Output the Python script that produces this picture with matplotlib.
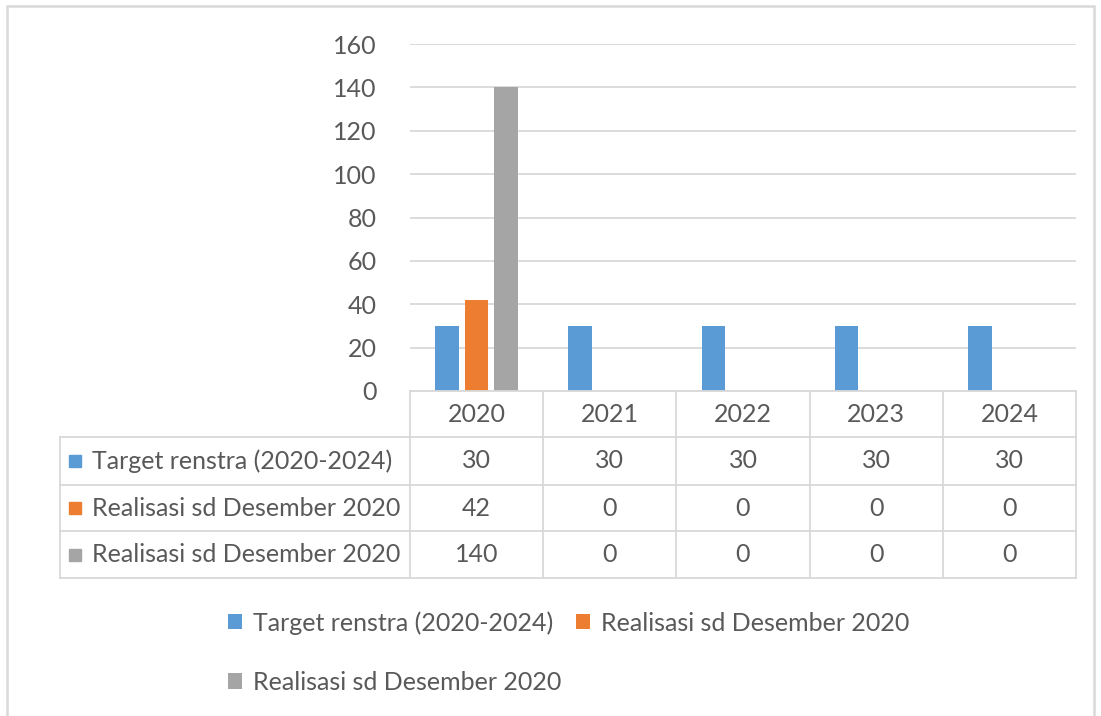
import matplotlib
matplotlib.use("Agg")
import matplotlib.pyplot as plt
from matplotlib.patches import Rectangle
from matplotlib.lines import Line2D

# ---- data ----
years = ["2020", "2021", "2022", "2023", "2024"]
series_names = ["Target renstra (2020-2024)", "Realisasi sd Desember 2020", "Realisasi sd Desember 2020"]
target = [30, 30, 30, 30, 30]
realisasi_a = [42, 0, 0, 0, 0]
realisasi_b = [140, 0, 0, 0, 0]
yticks = [0, 20, 40, 60, 80, 100, 120, 140, 160]

series = [target, realisasi_a, realisasi_b]
colors = ["#5B9BD5", "#ED7D31", "#A5A5A5"]
TXT = "#595959"
GRID = "#D9D9D9"
FONT = "Lato"
FS = 18

W, H = 1101, 716
fig = plt.figure(figsize=(W / 100, H / 100), dpi=100)
plt.rcParams['font.family'] = [FONT, 'DejaVu Sans']

def fx(x):
    return x / W

def fy(y):
    return 1 - y / H

# outer border
fig.patches.append(Rectangle((fx(7), fy(730)), fx(1094) - fx(7), fy(6) - fy(730),
                             transform=fig.transFigure, fill=False, edgecolor="#D9D9D9", lw=1.8))

# plot area
x0, x1 = 410, 1076
ytop, ybot = 44, 391
ax = fig.add_axes([fx(x0), fy(ybot), fx(x1) - fx(x0), fy(ytop) - fy(ybot)])
ax.set_xlim(-0.5, len(years) - 0.5)
ax.set_ylim(0, 160)
ax.set_yticks(yticks)
ax.set_yticklabels([str(v) for v in yticks], fontsize=FS, color=TXT)
ax.tick_params(axis="y", length=0, pad=24)
ax.set_xticks([])
for s in ax.spines.values():
    s.set_visible(False)
ax.set_axisbelow(True)
ax.yaxis.grid(True, color=GRID, lw=1.3)

bw = 0.177
offs = [-0.222, 0.0, 0.222]
handles = []
for k, (vals, c) in enumerate(zip(series, colors)):
    xs = [i + offs[k] for i in range(len(years))]
    b = ax.bar(xs, vals, width=bw, color=c, label=series_names[k], zorder=3)
    handles.append(b)

# ---- data table ----
col_edges = [x0 + (x1 - x0) * i / len(years) for i in range(len(years) + 1)]
tleft = 60
row_edges = [391, 437, 485, 531, 578]
lc = GRID
lw = 1.3
def hline(y, xa, xb):
    fig.add_artist(Line2D([fx(xa), fx(xb)], [fy(y), fy(y)], transform=fig.transFigure, color=lc, lw=lw))
def vline(x, ya, yb):
    fig.add_artist(Line2D([fx(x), fx(x)], [fy(ya), fy(yb)], transform=fig.transFigure, color=lc, lw=lw))

hline(row_edges[0], x0, x1)
for y in row_edges[1:]:
    hline(y, tleft, x1)
for x in col_edges:
    vline(x, row_edges[0], row_edges[-1])
vline(tleft, row_edges[1], row_edges[-1])

# header years
for i, yr in enumerate(years):
    cx = (col_edges[i] + col_edges[i + 1]) / 2
    cy = (row_edges[0] + row_edges[1]) / 2
    fig.text(fx(cx), fy(cy), yr, ha="center", va="center", fontsize=FS, color=TXT)

# rows
for r, (name, vals, c) in enumerate(zip(series_names, series, colors)):
    cy = (row_edges[r + 1] + row_edges[r + 2]) / 2
    sq = 12
    fig.patches.append(Rectangle((fx(69), fy(cy + sq / 2)), sq / W, sq / H,
                                 transform=fig.transFigure, color=c))
    fig.text(fx(92), fy(cy), name, ha="left", va="center", fontsize=FS, color=TXT)
    for i, v in enumerate(vals):
        cx = (col_edges[i] + col_edges[i + 1]) / 2
        fig.text(fx(cx), fy(cy), str(v), ha="center", va="center", fontsize=FS, color=TXT)

# legend (row-major order: matplotlib fills column-wise)
order = [0, 2, 1]
leg = fig.legend(handles=[handles[i] for i in order], labels=[series_names[i] for i in order],
                 ncol=2, loc="upper left",
                 bbox_to_anchor=(fx(228), fy(611)), frameon=False, fontsize=FS,
                 labelcolor=TXT, handlelength=0.55, handleheight=0.55, handletextpad=0.45,
                 columnspacing=0.6, labelspacing=1.45, borderaxespad=0, borderpad=0)

fig.savefig("out.png", dpi=100)
